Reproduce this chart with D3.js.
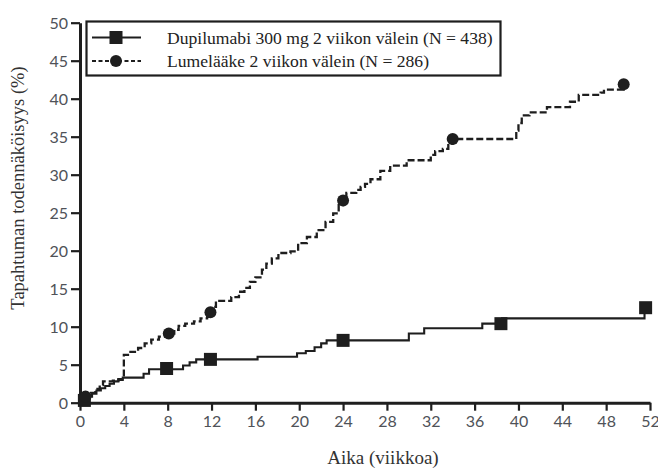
<!DOCTYPE html>
<html><head><meta charset="utf-8">
<script src="https://cdn.jsdelivr.net/npm/d3@7"></script>
<style>body{margin:0;background:#fff}svg{display:block}</style>
</head><body><svg id="c" width="658" height="471"></svg>
<script>
const xTicks = [0,4,8,12,16,20,24,28,32,36,40,44,48,52];
const yTicks = [0,5,10,15,20,25,30,35,40,45,50];
const seriesNames = ["Dupilumabi 300 mg 2 viikon välein (N = 438)", "Lumelääke 2 viikon välein (N = 286)"];

const dupiTime = [0,0.3,0.7,1.1,1.5,1.9,2.3,2.7,3.1,3.5,3.9,5.8,6.3,9.4,10.0,10.6,16.2,19.8,20.6,21.4,22.0,22.5,30.0,31.4,36.7,38.5,51.5,51.6];
const dupiValue = [0,0.4,0.8,1.2,1.6,1.9,2.2,2.5,2.8,3.0,3.3,3.8,4.4,4.9,5.3,5.7,6.05,6.5,6.8,7.3,7.8,8.2,9.1,9.8,10.4,11.1,11.9,12.4];
const dupiMarkTime = [0.4,7.9,11.9,24.0,38.4,51.6];
const dupiMarkValue = [0.3,4.5,5.7,8.2,10.4,12.5];

const placTime = [0,0.3,0.6,1.0,1.4,1.8,2.1,3.0,3.5,4.0,4.6,5.3,5.9,6.5,7.2,8.1,8.6,9.0,9.6,10.4,11.0,11.6,12.1,12.4,13.8,14.5,15.0,15.5,16.0,16.6,17.0,17.5,18.1,19.2,19.9,20.7,21.6,22.4,23.1,23.6,24.0,24.3,25.2,25.6,26.0,26.5,27.4,28.3,29.8,32.0,32.4,33.1,33.6,34.0,39.8,40.0,40.3,41.0,42.6,44.7,45.5,47.5,47.8,49.6];
const placValue = [0,0.5,0.9,1.3,1.8,2.3,2.8,2.9,3.1,6.3,6.7,7.2,7.8,8.3,8.7,9.1,9.6,10.1,10.4,10.7,11.1,11.3,12.6,13.4,13.9,14.6,15.1,15.9,16.5,17.5,18.3,19.0,19.7,19.9,21.0,21.8,22.7,23.8,24.9,26.0,26.6,27.6,28.0,28.4,28.8,29.4,30.5,31.2,31.9,32.6,33.1,33.4,34.1,34.7,35.8,36.8,37.8,38.2,38.9,39.6,40.5,40.8,41.2,41.6];
const placMarkTime = [0.5,8.1,11.9,24.0,34.0,49.6];
const placMarkValue = [0.8,9.1,11.9,26.6,34.7,41.9];

const svg = d3.select("#c");
const m = {l:80, r:8, t:22.7, b:68.3};
const W = 658, H = 471;
const x = d3.scaleLinear().domain([0,52]).range([m.l, W-m.r]);
const y = d3.scaleLinear().domain([0,50]).range([H-m.b, m.t]);
const ink = "#1e1e1e";

const tickFont = "Lato, 'Open Sans', sans-serif";
const serif = "'Liberation Serif', 'DejaVu Serif', serif";

const gx = svg.append("g").attr("transform",`translate(0,${y(0)})`)
  .call(d3.axisBottom(x).tickValues(xTicks).tickSize(8).tickSizeOuter(0).tickPadding(5));
const gy = svg.append("g").attr("transform",`translate(${x(0)},0)`)
  .call(d3.axisLeft(y).tickValues(yTicks).tickSize(9).tickSizeOuter(0).tickPadding(3));
[gx,gy].forEach(g=>{
  g.select(".domain").attr("stroke",ink).attr("stroke-width",3);
  g.selectAll(".tick line").attr("stroke",ink).attr("stroke-width",2.2);
  g.selectAll(".tick text").attr("fill","#4f5258").style("font-family",tickFont).style("font-size","16px");
});
gy.selectAll(".tick text").attr("dy","0.36em");

const line = d3.line().curve(d3.curveStepAfter).x(d=>x(d[0])).y(d=>y(d[1]));
const dupi = dupiTime.map((t,i)=>[t,dupiValue[i]]);
const plac = placTime.map((t,i)=>[t,placValue[i]]);

svg.append("path").datum(plac).attr("d",line).attr("fill","none").attr("stroke",ink)
  .attr("stroke-width",2.3).attr("stroke-dasharray","7,3");
svg.append("path").datum(dupi).attr("d",line).attr("fill","none").attr("stroke",ink)
  .attr("stroke-width",2.1);

svg.append("g").selectAll("rect").data(dupiMarkTime.map((t,i)=>[t,dupiMarkValue[i]])).join("rect")
  .attr("x",d=>x(d[0])-6.5).attr("y",d=>y(d[1])-6.5).attr("width",13).attr("height",13).attr("fill",ink);
svg.append("g").selectAll("circle").data(placMarkTime.map((t,i)=>[t,placMarkValue[i]])).join("circle")
  .attr("cx",d=>x(d[0])).attr("cy",d=>y(d[1])).attr("r",6).attr("fill",ink);

// legend
const lg = svg.append("g");
lg.append("rect").attr("x",86.5).attr("y",21.5).attr("width",414).attr("height",54)
  .attr("fill","#fff").attr("stroke",ink).attr("stroke-width",2.2);
const rows = [37.5, 61];
lg.append("line").attr("x1",92).attr("x2",141).attr("y1",rows[0]).attr("y2",rows[0]).attr("stroke",ink).attr("stroke-width",2);
lg.append("rect").attr("x",116-6.5).attr("y",rows[0]-6.5).attr("width",13).attr("height",13).attr("fill",ink);
lg.append("line").attr("x1",92).attr("x2",141).attr("y1",rows[1]).attr("y2",rows[1]).attr("stroke",ink).attr("stroke-width",2).attr("stroke-dasharray","4,2.5");
lg.append("circle").attr("cx",116).attr("cy",rows[1]).attr("r",6).attr("fill",ink);
seriesNames.forEach((s,i)=>{
  lg.append("text").attr("x",167).attr("y",rows[i]+6).text(s)
    .attr("fill","#222").style("font-family",serif).style("font-size","17.6px");
});

svg.append("text").attr("x",383).attr("y",464).attr("text-anchor","middle").text("Aika (viikkoa)")
  .attr("fill","#333").style("font-family",serif).style("font-size","19px");
svg.append("text").attr("transform",`translate(24,188) rotate(-90)`).attr("text-anchor","middle")
  .text("Tapahtuman todennäköisyys (%)").attr("fill","#333").style("font-family",serif).style("font-size","18.5px");
</script></body></html>
